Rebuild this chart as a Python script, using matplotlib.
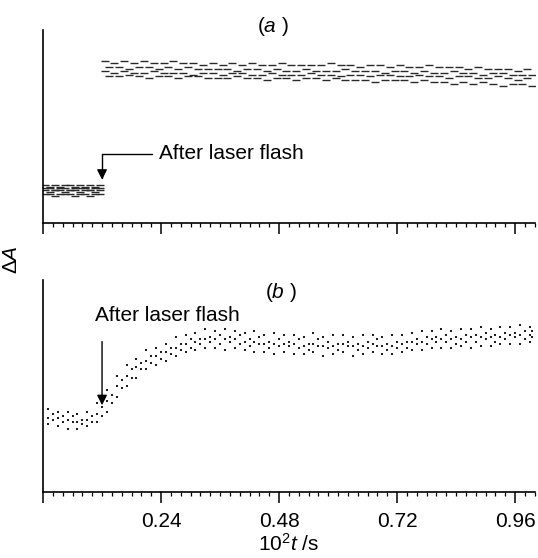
"""Transient absorbance after a laser flash, panels (a) and (b)."""
import matplotlib

matplotlib.use("Agg")
import matplotlib.pyplot as plt  # noqa: E402
from matplotlib.ticker import MultipleLocator  # noqa: E402

plt.rcParams.update({
    "font.family": ["Liberation Sans", "DejaVu Sans"],
    "font.size": 15,
    "mathtext.fontset": "custom",
    "mathtext.rm": "Liberation Sans",
    "mathtext.it": "Liberation Sans:italic",
    "axes.linewidth": 1.2,
})

# ---- data (x in 10^2 t / s, y in arbitrary units) ----
FLASH_T = 0.12

# panel (a): step change
t_pre_a = [0.005, 0.015, 0.025, 0.035, 0.045, 0.055, 0.065, 0.075, 0.085,
           0.095, 0.105, 0.115]
pre_a_rows = [
    [0.20, 0.19, 0.20, 0.19, 0.20, 0.20, 0.19, 0.20, 0.19, 0.20, 0.19, 0.20],
    [0.18, 0.18, 0.17, 0.18, 0.18, 0.17, 0.18, 0.18, 0.18, 0.17, 0.18, 0.18],
    [0.17, 0.16, 0.17, 0.17, 0.16, 0.17, 0.17, 0.16, 0.17, 0.17, 0.16, 0.17],
    [0.15, 0.15, 0.14, 0.15, 0.15, 0.15, 0.14, 0.15, 0.15, 0.14, 0.15, 0.15],
]

t_post_a = [0.125, 0.145, 0.165, 0.185, 0.205, 0.225, 0.245, 0.265, 0.285,
            0.305, 0.325, 0.345, 0.365, 0.385, 0.405, 0.425, 0.445, 0.465,
            0.485, 0.505, 0.525, 0.545, 0.565, 0.585, 0.605, 0.625, 0.645,
            0.665, 0.685, 0.705, 0.725, 0.745, 0.765, 0.785, 0.805, 0.825,
            0.845, 0.865, 0.885, 0.905, 0.925, 0.945, 0.965, 0.985]
t_post_a2 = [0.135, 0.155, 0.175, 0.195, 0.215, 0.235, 0.255, 0.275, 0.295,
             0.315, 0.335, 0.355, 0.375, 0.395, 0.415, 0.435, 0.455, 0.475,
             0.495, 0.515, 0.535, 0.555, 0.575, 0.595, 0.615, 0.635, 0.655,
             0.675, 0.695, 0.715, 0.735, 0.755, 0.775, 0.795, 0.815, 0.835,
             0.855, 0.875, 0.895, 0.915, 0.935, 0.955, 0.975, 0.995]
post_a_rows = [
    [0.84, 0.83, 0.84, 0.83, 0.84, 0.83, 0.83, 0.84, 0.83, 0.83, 0.82,
     0.83, 0.82, 0.83, 0.82, 0.83, 0.82, 0.82, 0.83, 0.82, 0.82, 0.82,
     0.82, 0.83, 0.82, 0.82, 0.81, 0.82, 0.82, 0.81, 0.82, 0.81, 0.81,
     0.82, 0.81, 0.81, 0.81, 0.80, 0.81, 0.80, 0.80, 0.80, 0.79, 0.80],
    [0.81, 0.81, 0.80, 0.81, 0.81, 0.80, 0.81, 0.80, 0.81, 0.80, 0.80,
     0.80, 0.80, 0.79, 0.80, 0.80, 0.79, 0.80, 0.79, 0.79, 0.80, 0.79,
     0.79, 0.79, 0.80, 0.79, 0.79, 0.79, 0.78, 0.79, 0.79, 0.78, 0.79,
     0.78, 0.78, 0.79, 0.78, 0.78, 0.77, 0.78, 0.78, 0.77, 0.77, 0.77],
    [0.79, 0.78, 0.79, 0.78, 0.78, 0.79, 0.78, 0.78, 0.78, 0.77, 0.78,
     0.78, 0.77, 0.78, 0.78, 0.77, 0.77, 0.78, 0.77, 0.77, 0.77, 0.78,
     0.77, 0.77, 0.76, 0.77, 0.77, 0.76, 0.77, 0.77, 0.76, 0.76, 0.77,
     0.76, 0.76, 0.75, 0.76, 0.76, 0.75, 0.75, 0.76, 0.75, 0.74, 0.75],
    [0.76, 0.76, 0.77, 0.76, 0.75, 0.76, 0.76, 0.75, 0.76, 0.76, 0.75,
     0.75, 0.75, 0.76, 0.75, 0.75, 0.74, 0.75, 0.75, 0.74, 0.75, 0.75,
     0.74, 0.75, 0.74, 0.74, 0.74, 0.73, 0.74, 0.74, 0.74, 0.73, 0.74,
     0.73, 0.73, 0.72, 0.73, 0.72, 0.73, 0.72, 0.71, 0.72, 0.72, 0.71],
]

# panel (b): gradual rise
t_b = [0.01, 0.03, 0.05, 0.07, 0.09, 0.11, 0.13, 0.15, 0.17, 0.19,
       0.21, 0.23, 0.25, 0.27, 0.29, 0.31, 0.33, 0.35, 0.37, 0.39,
       0.41, 0.43, 0.45, 0.47, 0.49, 0.51, 0.53, 0.55, 0.57, 0.59,
       0.61, 0.63, 0.65, 0.67, 0.69, 0.71, 0.73, 0.75, 0.77, 0.79,
       0.81, 0.83, 0.85, 0.87, 0.89, 0.91, 0.93, 0.95, 0.97, 0.99]
t_b2 = [0.02, 0.04, 0.06, 0.08, 0.10, 0.12, 0.14, 0.16, 0.18, 0.20,
        0.22, 0.24, 0.26, 0.28, 0.30, 0.32, 0.34, 0.36, 0.38, 0.40,
        0.42, 0.44, 0.46, 0.48, 0.50, 0.52, 0.54, 0.56, 0.58, 0.60,
        0.62, 0.64, 0.66, 0.68, 0.70, 0.72, 0.74, 0.76, 0.78, 0.80,
        0.82, 0.84, 0.86, 0.88, 0.90, 0.92, 0.94, 0.96, 0.98, 0.995]
b_rows = [
    [0.39, 0.38, 0.38, 0.37, 0.38, 0.42, 0.48, 0.55, 0.60, 0.63,
     0.67, 0.68, 0.70, 0.73, 0.74, 0.75, 0.77, 0.76, 0.77, 0.76,
     0.75, 0.76, 0.74, 0.75, 0.74, 0.74, 0.73, 0.75, 0.73, 0.74,
     0.74, 0.73, 0.74, 0.74, 0.73, 0.74, 0.74, 0.75, 0.76, 0.76,
     0.77, 0.76, 0.77, 0.77, 0.78, 0.77, 0.78, 0.78, 0.79, 0.78],
    [0.37, 0.36, 0.36, 0.34, 0.36, 0.40, 0.46, 0.53, 0.58, 0.61,
     0.64, 0.66, 0.68, 0.70, 0.72, 0.72, 0.73, 0.74, 0.73, 0.74,
     0.72, 0.73, 0.71, 0.72, 0.71, 0.72, 0.70, 0.72, 0.71, 0.70,
     0.71, 0.70, 0.71, 0.72, 0.70, 0.71, 0.71, 0.72, 0.73, 0.73,
     0.74, 0.73, 0.74, 0.74, 0.75, 0.74, 0.75, 0.75, 0.76, 0.76],
    [0.35, 0.35, 0.34, 0.33, 0.34, 0.37, 0.43, 0.50, 0.55, 0.59,
     0.62, 0.64, 0.66, 0.68, 0.70, 0.71, 0.72, 0.72, 0.72, 0.72,
     0.71, 0.71, 0.70, 0.70, 0.70, 0.70, 0.69, 0.70, 0.69, 0.69,
     0.70, 0.69, 0.69, 0.70, 0.69, 0.69, 0.70, 0.71, 0.71, 0.72,
     0.72, 0.72, 0.72, 0.73, 0.73, 0.73, 0.73, 0.74, 0.74, 0.74],
    [0.34, 0.33, 0.33, 0.32, 0.33, 0.36, 0.42, 0.49, 0.54, 0.58,
     0.61, 0.63, 0.65, 0.67, 0.68, 0.70, 0.71, 0.70, 0.71, 0.70,
     0.69, 0.70, 0.68, 0.69, 0.69, 0.68, 0.67, 0.69, 0.68, 0.67,
     0.69, 0.67, 0.68, 0.69, 0.67, 0.68, 0.68, 0.70, 0.70, 0.71,
     0.71, 0.70, 0.71, 0.71, 0.72, 0.71, 0.72, 0.73, 0.72, 0.73],
    [0.32, 0.31, 0.30, 0.30, 0.31, 0.33, 0.38, 0.45, 0.50, 0.54,
     0.58, 0.60, 0.62, 0.64, 0.66, 0.67, 0.68, 0.68, 0.67, 0.68,
     0.67, 0.66, 0.66, 0.65, 0.66, 0.65, 0.65, 0.66, 0.64, 0.65,
     0.66, 0.64, 0.65, 0.66, 0.65, 0.65, 0.66, 0.67, 0.67, 0.68,
     0.68, 0.68, 0.69, 0.68, 0.69, 0.69, 0.70, 0.70, 0.70, 0.71],
]

X_MAJOR = [0.24, 0.48, 0.72, 0.96]
X_MAJOR_LABELS = ["0.24", "0.48", "0.72", "0.96"]
LABEL = "After laser flash"


def _style(ax, show_labels):
    ax.set_xlim(0, 1.0)
    ax.set_ylim(0, 1)
    for side in ("top", "right"):
        ax.spines[side].set_visible(False)
    ax.set_yticks([])
    ax.set_xticks([0] + X_MAJOR)
    ax.xaxis.set_minor_locator(MultipleLocator(0.02))
    ax.tick_params(axis="x", which="major", direction="out", length=8,
                   width=1.1, pad=6)
    ax.tick_params(axis="x", which="minor", direction="out", length=3,
                   width=0.9)
    if show_labels:
        ax.set_xticklabels([""] + X_MAJOR_LABELS)
    else:
        ax.set_xticklabels([])


fig = plt.figure(figsize=(5.38, 5.58), dpi=100)
ax_a = fig.add_axes([0.080, 0.600, 0.914, 0.346])
ax_b = fig.add_axes([0.080, 0.118, 0.914, 0.380])

dot_a = dict(linestyle="none", marker="_", markersize=6, markeredgewidth=1.0,
             color="#2a2a2a")
for row in pre_a_rows:
    ax_a.plot(t_pre_a, row, **dot_a)
for i, row in enumerate(post_a_rows):
    ax_a.plot(t_post_a2 if i % 2 else t_post_a, row, **dot_a)

dot_b = dict(linestyle="none", marker="s", markersize=1.8,
             markeredgewidth=0, color="#1e1e1e")
for i, row in enumerate(b_rows):
    ax_b.plot(t_b2 if i % 2 else t_b, row, **dot_b)

_style(ax_a, False)
_style(ax_b, True)

ax_a.text(0.467, 1.02, r"($\mathit{a}$ )", transform=ax_a.transAxes,
          ha="center", va="center")
ax_b.text(0.484, 0.94, r"($\mathit{b}$ )", transform=ax_b.transAxes,
          ha="center", va="center")

ax_a.annotate(LABEL, xy=(FLASH_T, 0.225), xytext=(0.235, 0.36),
              ha="left", va="center",
              arrowprops=dict(arrowstyle="-|>,head_length=0.4,head_width=0.2",
                              color="black", lw=1.0, shrinkA=3, shrinkB=0,
                              connectionstyle="angle,angleA=0,angleB=90,rad=0"))

ax_b.text(0.106, 0.835, LABEL, ha="left", va="center")
ax_b.annotate("", xy=(FLASH_T, 0.41), xytext=(FLASH_T, 0.71),
              arrowprops=dict(arrowstyle="-|>,head_length=0.4,head_width=0.2",
                              color="black", lw=1.0, shrinkA=0, shrinkB=0))

ax_b.set_xlabel(r"$10^2\mathit{t}$ /s", labelpad=2)
fig.text(0.022, 0.535, r"$\Delta\mathit{A}$", rotation=90,
         ha="center", va="center")

fig.savefig("out.png", dpi=100)
